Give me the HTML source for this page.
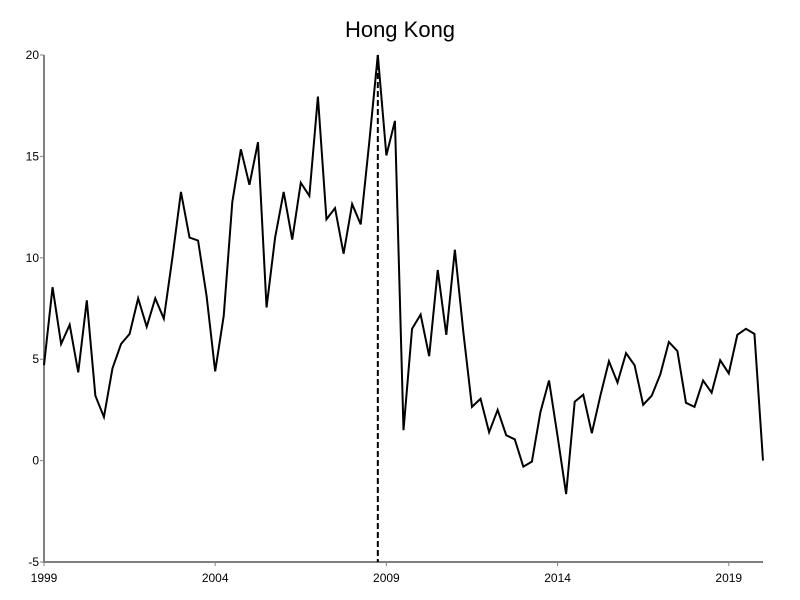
<!DOCTYPE html>
<html><head><meta charset="utf-8"><style>
body{margin:0;background:#fff;}
svg{display:block;font-family:"Liberation Sans",sans-serif;}
</style></head><body>
<svg id="chart" width="800" height="600">
<text x="400" y="37" text-anchor="middle" font-size="22">Hong Kong</text>
<g id="axes"></g>
<path id="line" fill="none" stroke="#000" stroke-width="2" stroke-linejoin="miter"></path>
<line id="marker" stroke="#000" stroke-width="2" stroke-dasharray="6,3"></line>
</svg>
<script>
const values = [4.7,8.55,5.75,6.7,4.35,7.9,3.2,2.15,4.55,5.75,6.25,8.0,6.6,8.0,7.0,10.0,13.25,11.0,10.85,8.1,4.4,7.15,12.75,15.35,13.6,15.7,7.55,11.0,13.25,10.9,13.7,13.05,17.95,11.9,12.45,10.2,12.65,11.65,15.7,20.0,15.05,16.75,1.5,6.5,7.2,5.15,9.4,6.2,10.4,6.3,2.65,3.05,1.4,2.5,1.25,1.05,-0.3,-0.05,2.4,3.95,1.2,-1.65,2.9,3.25,1.35,3.2,4.9,3.85,5.3,4.7,2.75,3.2,4.25,5.85,5.4,2.85,2.65,3.95,3.35,4.95,4.3,6.2,6.5,6.25,0];
const startYear = 1999;
const yTicks = [-5,0,5,10,15,20];
const xTicks = [1999,2004,2009,2014,2019];
const markerTime = 2008.75;

const x0=44,x1=763,y0=562,y1=55;
const tMin=1999,tMax=2020;
const X=t=>x0+(t-tMin)/(tMax-tMin)*(x1-x0);
const Y=v=>y0-(v+5)/25*(y0-y1);
const NS="http://www.w3.org/2000/svg";
const axes=document.getElementById('axes');
function mk(tag,attrs,parent){const e=document.createElementNS(NS,tag);for(const k in attrs)e.setAttribute(k,attrs[k]);(parent||axes).appendChild(e);return e;}
const ya=mk('line',{x1:x0,y1:y1,x2:x0,y2:y0+1,stroke:'#808080','stroke-width':2});


const xa=mk('line',{x1:x0-1,y1:y0,x2:x1,y2:y0,stroke:'#808080','stroke-width':2});


yTicks.forEach(v=>{
  const tk=mk('line',{x1:x0-4,y1:Y(v),x2:x0,y2:Y(v),stroke:'#808080','stroke-width':1});
  
  
  const t=mk('text',{x:x0-5,y:Y(v)+4,'text-anchor':'end','font-size':12});
  t.textContent=v;
  
  
});
xTicks.forEach(v=>{
  const tk=mk('line',{x1:X(v),y1:y0,x2:X(v),y2:y0+4,stroke:'#808080','stroke-width':1});
  
  
  const t=mk('text',{x:X(v),y:y0+20,'text-anchor':'middle','font-size':12});
  t.textContent=v;
  
  
});
let d='';
values.forEach((v,i)=>{d+=(i?'L':'M')+X(startYear+i/4).toFixed(2)+','+Y(v).toFixed(2);});
document.getElementById('line').setAttribute('d',d);
const m=document.getElementById('marker');
m.setAttribute('x1',X(markerTime));m.setAttribute('x2',X(markerTime));
m.setAttribute('y1',y1);m.setAttribute('y2',y0);
</script>
</body></html>
